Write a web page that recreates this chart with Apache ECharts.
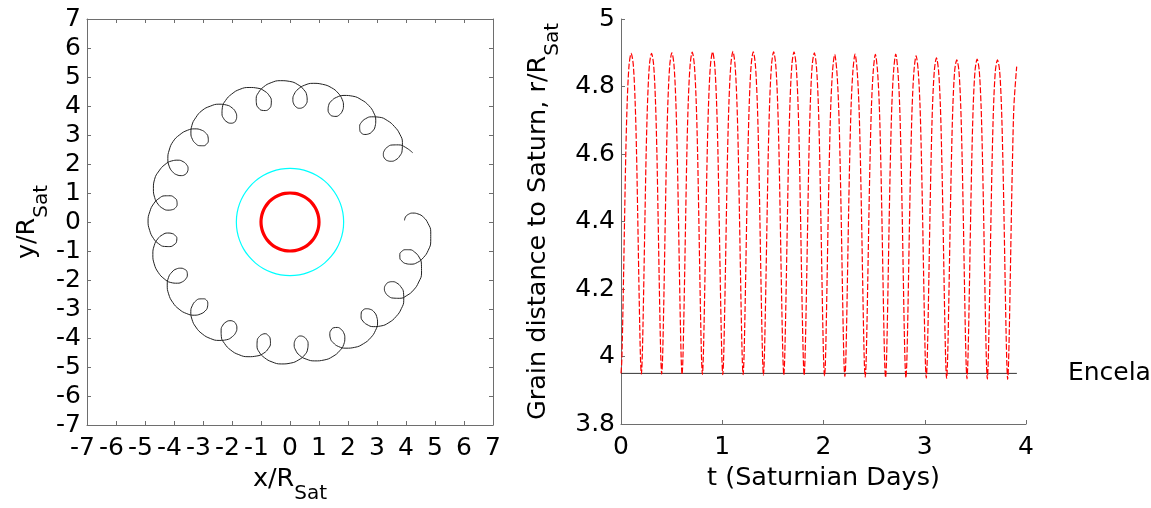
<!DOCTYPE html>
<html>
<head>
<meta charset="utf-8">
<script src="https://cdn.jsdelivr.net/npm/echarts@6/dist/echarts.min.js"></script>
<style>
  html, body { margin: 0; padding: 0; background: #ffffff; }
  #chart { width: 1151px; height: 508px; }
</style>
</head>
<body>
<div id="chart"></div>
<script>
// Grain trajectory samples: time (Saturnian days), distance to Saturn (R_Sat)
// and azimuth (degrees, measured clockwise from the +x axis).
// One row per gyration cycle, starting at the innermost point of each loop.
const timeDays = [
  0.000, 0.0075, 0.016, 0.0255, 0.036, 0.048, 0.062, 0.080, 0.1005, 0.121, 0.139, 0.153, 0.165, 0.1755, 0.185, 0.1935,
  0.201, 0.2085, 0.217, 0.2265, 0.237, 0.249, 0.263, 0.281, 0.3015, 0.322, 0.340, 0.354, 0.366, 0.3765, 0.386, 0.3945,
  0.402, 0.4095, 0.418, 0.4275, 0.438, 0.450, 0.464, 0.482, 0.5025, 0.523, 0.541, 0.555, 0.567, 0.5775, 0.587, 0.5955,
  0.603, 0.6105, 0.619, 0.6285, 0.639, 0.651, 0.665, 0.683, 0.7035, 0.724, 0.742, 0.756, 0.768, 0.7785, 0.788, 0.7965,
  0.804, 0.8115, 0.820, 0.8295, 0.840, 0.852, 0.866, 0.884, 0.9045, 0.925, 0.943, 0.957, 0.969, 0.9795, 0.989, 0.9975,
  1.005, 1.0125, 1.021, 1.0305, 1.041, 1.053, 1.067, 1.085, 1.1055, 1.126, 1.144, 1.158, 1.170, 1.1805, 1.190, 1.1985,
  1.206, 1.2135, 1.222, 1.2315, 1.242, 1.254, 1.268, 1.286, 1.3065, 1.327, 1.345, 1.359, 1.371, 1.3815, 1.391, 1.3995,
  1.407, 1.4145, 1.423, 1.4325, 1.443, 1.455, 1.469, 1.487, 1.5075, 1.528, 1.546, 1.560, 1.572, 1.5825, 1.592, 1.6005,
  1.608, 1.6155, 1.624, 1.6335, 1.644, 1.656, 1.670, 1.688, 1.7085, 1.729, 1.747, 1.761, 1.773, 1.7835, 1.793, 1.8015,
  1.809, 1.8165, 1.825, 1.8345, 1.845, 1.857, 1.871, 1.889, 1.9095, 1.930, 1.948, 1.962, 1.974, 1.9845, 1.994, 2.0025,
  2.010, 2.0175, 2.026, 2.0355, 2.046, 2.058, 2.072, 2.090, 2.1105, 2.131, 2.149, 2.163, 2.175, 2.1855, 2.195, 2.2035,
  2.211, 2.2185, 2.227, 2.2365, 2.247, 2.259, 2.273, 2.291, 2.3115, 2.332, 2.350, 2.364, 2.376, 2.3865, 2.396, 2.4045,
  2.412, 2.4195, 2.428, 2.4375, 2.448, 2.460, 2.474, 2.492, 2.5125, 2.533, 2.551, 2.565, 2.577, 2.5875, 2.597, 2.6055,
  2.613, 2.6205, 2.629, 2.6385, 2.649, 2.661, 2.675, 2.693, 2.7135, 2.734, 2.752, 2.766, 2.778, 2.7885, 2.798, 2.8065,
  2.814, 2.8215, 2.830, 2.8395, 2.850, 2.862, 2.876, 2.894, 2.9145, 2.935, 2.953, 2.967, 2.979, 2.9895, 2.999, 3.0075,
  3.015, 3.0225, 3.031, 3.0405, 3.051, 3.063, 3.077, 3.095, 3.1155, 3.136, 3.154, 3.168, 3.180, 3.1905, 3.200, 3.2085,
  3.216, 3.2235, 3.232, 3.2415, 3.252, 3.264, 3.278, 3.296, 3.3165, 3.337, 3.355, 3.369, 3.381, 3.3915, 3.401, 3.4095,
  3.417, 3.4245, 3.433, 3.4425, 3.453, 3.465, 3.479, 3.497, 3.5175, 3.538, 3.556, 3.570, 3.582, 3.5925, 3.602, 3.6105,
  3.618, 3.6255, 3.634, 3.6435, 3.654, 3.666, 3.680, 3.698, 3.7185, 3.739, 3.757, 3.771, 3.783, 3.7935, 3.803, 3.8115,
  3.819, 3.8265, 3.835, 3.8445, 3.855, 3.867, 3.881, 3.908
];

const radius = [
  3.950, 3.985, 4.09, 4.24, 4.42, 4.61, 4.76, 4.865, 4.898, 4.865, 4.76, 4.61, 4.42, 4.24, 4.09, 3.985,
  3.948, 3.985, 4.09, 4.24, 4.42, 4.61, 4.76, 4.865, 4.898, 4.865, 4.76, 4.61, 4.42, 4.24, 4.09, 3.985,
  3.948, 3.985, 4.09, 4.24, 4.42, 4.61, 4.76, 4.865, 4.900, 4.865, 4.76, 4.61, 4.42, 4.24, 4.09, 3.985,
  3.947, 3.985, 4.09, 4.24, 4.42, 4.61, 4.76, 4.865, 4.902, 4.865, 4.76, 4.61, 4.42, 4.24, 4.09, 3.985,
  3.947, 3.985, 4.09, 4.24, 4.42, 4.61, 4.76, 4.865, 4.902, 4.865, 4.76, 4.61, 4.42, 4.24, 4.09, 3.985,
  3.946, 3.985, 4.09, 4.24, 4.42, 4.61, 4.76, 4.865, 4.904, 4.865, 4.76, 4.61, 4.42, 4.24, 4.09, 3.985,
  3.946, 3.985, 4.09, 4.24, 4.42, 4.61, 4.76, 4.865, 4.903, 4.865, 4.76, 4.61, 4.42, 4.24, 4.09, 3.985,
  3.945, 3.985, 4.09, 4.24, 4.42, 4.61, 4.76, 4.865, 4.903, 4.865, 4.76, 4.61, 4.42, 4.24, 4.09, 3.985,
  3.945, 3.985, 4.09, 4.24, 4.42, 4.61, 4.76, 4.865, 4.903, 4.865, 4.76, 4.61, 4.42, 4.24, 4.09, 3.985,
  3.944, 3.985, 4.09, 4.24, 4.42, 4.61, 4.76, 4.865, 4.900, 4.860, 4.755, 4.60, 4.415, 4.235, 4.08, 3.978,
  3.942, 3.972, 4.075, 4.23, 4.41, 4.59, 4.745, 4.848, 4.895, 4.848, 4.745, 4.59, 4.41, 4.23, 4.075, 3.972,
  3.940, 3.972, 4.075, 4.23, 4.41, 4.59, 4.745, 4.848, 4.896, 4.848, 4.745, 4.59, 4.41, 4.23, 4.075, 3.972,
  3.939, 3.972, 4.075, 4.23, 4.41, 4.59, 4.745, 4.848, 4.895, 4.848, 4.745, 4.59, 4.41, 4.23, 4.075, 3.972,
  3.938, 3.972, 4.075, 4.23, 4.41, 4.59, 4.745, 4.848, 4.896, 4.848, 4.745, 4.59, 4.41, 4.23, 4.075, 3.972,
  3.937, 3.972, 4.075, 4.23, 4.41, 4.59, 4.745, 4.848, 4.891, 4.848, 4.745, 4.59, 4.41, 4.23, 4.075, 3.972,
  3.936, 3.972, 4.075, 4.23, 4.41, 4.59, 4.745, 4.848, 4.885, 4.848, 4.745, 4.59, 4.41, 4.23, 4.075, 3.972,
  3.935, 3.972, 4.075, 4.23, 4.41, 4.59, 4.745, 4.848, 4.879, 4.848, 4.745, 4.59, 4.41, 4.23, 4.075, 3.972,
  3.934, 3.972, 4.075, 4.23, 4.41, 4.59, 4.745, 4.848, 4.881, 4.848, 4.745, 4.59, 4.41, 4.23, 4.075, 3.972,
  3.933, 3.972, 4.075, 4.23, 4.41, 4.59, 4.745, 4.848, 4.879, 4.848, 4.745, 4.59, 4.41, 4.23, 4.075, 3.972,
  3.932, 3.972, 4.075, 4.23, 4.41, 4.59, 4.745, 4.859
];

const azimuthDeg = [
  -0.80, -2.45, -3.69, -4.16, -3.62, -2.01, 0.61, 4.00, 7.80, 11.59, 14.98, 17.60, 19.21, 19.75, 19.28, 18.04,
  16.40, 14.75, 13.51, 13.04, 13.58, 15.19, 17.81, 21.20, 25.00, 28.79, 32.18, 34.80, 36.41, 36.95, 36.48, 35.24,
  33.10, 31.45, 30.21, 29.74, 30.28, 31.89, 34.51, 37.90, 41.70, 45.49, 48.88, 51.50, 53.11, 53.65, 53.18, 51.94,
  50.30, 48.65, 47.41, 46.94, 47.48, 49.09, 51.71, 55.10, 58.90, 62.69, 66.08, 68.70, 70.31, 70.85, 70.38, 69.14,
  67.50, 65.85, 64.61, 64.14, 64.68, 66.29, 68.91, 72.30, 76.10, 79.89, 83.28, 85.90, 87.51, 88.05, 87.58, 86.34,
  84.90, 83.25, 82.01, 81.54, 82.08, 83.69, 86.31, 89.70, 93.50, 97.29, 100.68, 103.30, 104.91, 105.45, 104.98, 103.74,
  102.50, 100.85, 99.61, 99.14, 99.68, 101.29, 103.91, 107.30, 111.10, 114.89, 118.28, 120.90, 122.51, 123.05, 122.58, 121.34,
  119.50, 117.85, 116.61, 116.14, 116.68, 118.29, 120.91, 124.30, 128.10, 131.89, 135.28, 137.90, 139.51, 140.05, 139.58, 138.34,
  137.00, 135.35, 134.11, 133.64, 134.18, 135.79, 138.41, 141.80, 145.60, 149.39, 152.78, 155.40, 157.01, 157.55, 157.08, 155.84,
  154.30, 152.65, 151.41, 150.94, 151.48, 153.09, 155.71, 159.10, 162.90, 166.69, 170.08, 172.70, 174.31, 174.85, 174.38, 173.14,
  171.80, 170.15, 168.91, 168.44, 168.98, 170.59, 173.21, 176.60, 180.40, 184.19, 187.58, 190.20, 191.81, 192.35, 191.88, 190.64,
  188.90, 187.25, 186.01, 185.54, 186.08, 187.69, 190.31, 193.70, 197.50, 201.29, 204.68, 207.30, 208.91, 209.45, 208.98, 207.74,
  206.00, 204.35, 203.11, 202.64, 203.18, 204.79, 207.41, 210.80, 214.60, 218.39, 221.78, 224.40, 226.01, 226.55, 226.08, 224.84,
  223.10, 221.45, 220.21, 219.74, 220.28, 221.89, 224.51, 227.90, 231.70, 235.49, 238.88, 241.50, 243.11, 243.65, 243.18, 241.94,
  240.70, 239.05, 237.81, 237.34, 237.88, 239.49, 242.11, 245.50, 249.30, 253.09, 256.48, 259.10, 260.71, 261.25, 260.78, 259.54,
  257.50, 255.85, 254.61, 254.14, 254.68, 256.29, 258.91, 262.30, 266.10, 269.89, 273.28, 275.90, 277.51, 278.05, 277.58, 276.34,
  274.70, 273.05, 271.81, 271.34, 271.88, 273.49, 276.11, 279.50, 283.30, 287.09, 290.48, 293.10, 294.71, 295.25, 294.78, 293.54,
  291.70, 290.05, 288.81, 288.34, 288.88, 290.49, 293.11, 296.50, 300.30, 304.09, 307.48, 310.10, 311.71, 312.25, 311.78, 310.54,
  309.00, 307.35, 306.11, 305.64, 306.18, 307.79, 310.41, 313.80, 317.60, 321.39, 324.78, 327.40, 329.01, 329.55, 329.08, 327.84,
  325.80, 324.15, 322.91, 322.44, 322.98, 324.59, 327.21, 330.60
];

// Reference circles (R_Sat): Saturn's surface and the synchronous orbit
const saturnRadius = 1.0;
const syncOrbitRadius = 1.85;
const ringAngles = [0, 10, 20, 30, 40, 50, 60, 70, 80, 90, 100, 110, 120,
  130, 140, 150, 160, 170, 180, 190, 200, 210, 220, 230, 240, 250, 260,
  270, 280, 290, 300, 310, 320, 330, 340, 350, 360];

// Enceladus orbit, drawn over the simulated time span
const enceladusRadius = 3.95;
const enceladusSpan = [0, 3.91];
const enceladusName = 'Enceladus';

const FONT = '"DejaVu Sans", "Liberation Sans", Arial, sans-serif';
const AXIS_COLOR = '#6e6e6e';
const TICK_SIZE = 25;

const orbitXY = radius.map((r, i) => [r, azimuthDeg[i]]);
const radiusVsTime = timeDays.map((t, i) => [t, radius[i]]);
const ring = (r) => ringAngles.map(a => [r, a]);

function axisBase(extra) {
  return Object.assign({
    type: 'value',
    axisLine: { show: true, onZero: false, lineStyle: { color: AXIS_COLOR, width: 1 } },
    axisTick: { show: true, inside: true, length: 4, lineStyle: { color: AXIS_COLOR, width: 1 } },
    splitLine: { show: false },
    axisLabel: { color: '#000', fontSize: TICK_SIZE, fontFamily: FONT, margin: 11, showMinLabel: true, showMaxLabel: true, hideOverlap: false },
    nameTextStyle: { color: '#000', fontFamily: FONT }
  }, extra);
}

// Axis titles with a subscript "Sat"
const nameRich = {
  m: { fontSize: 25.5, fontFamily: FONT, color: '#000' },
  s: { fontSize: 20, fontFamily: FONT, color: '#000', padding: [30, 0, 0, 0] }
};

// Negative tick labels hang their minus sign to the left of the tick
const signedTickRich = {
  n: { fontSize: TICK_SIZE, fontFamily: FONT, color: '#000', padding: [0, 9, 0, 0] },
  p: { fontSize: TICK_SIZE, fontFamily: FONT, color: '#000' }
};

const option = {
  animation: false,
  backgroundColor: '#ffffff',
  textStyle: { fontFamily: FONT },
  grid: [
    { left: 87, top: 19, width: 406, height: 406, outerBoundsMode: 'none', containLabel: false },
    { left: 621, top: 19, width: 405, height: 405, outerBoundsMode: 'none', containLabel: false }
  ],
  xAxis: [
    axisBase({
      gridIndex: 0, min: -7, max: 7, interval: 1, position: 'bottom',
      axisLabel: {
        margin: 11, showMinLabel: true, showMaxLabel: true, hideOverlap: false,
        formatter: v => (v < 0 ? '{n|' + v + '}' : '{p|' + v + '}'),
        rich: signedTickRich
      },
      name: '{m|x/R}{s|Sat}', nameLocation: 'middle', nameGap: 26,
      nameTextStyle: { rich: nameRich }
    }),
    axisBase({
      gridIndex: 0, min: -7, max: 7, interval: 1, position: 'top',
      axisLabel: { show: false }
    }),
    axisBase({
      gridIndex: 1, min: 0, max: 4, interval: 1, position: 'bottom',
      name: 't (Saturnian Days)', nameLocation: 'middle', nameGap: 41,
      nameTextStyle: { color: '#000', fontFamily: FONT, fontSize: 25.5 }
    })
  ],
  yAxis: [
    axisBase({
      gridIndex: 0, min: -7, max: 7, interval: 1, position: 'left',
      axisLabel: { color: '#000', fontSize: TICK_SIZE, fontFamily: FONT, margin: 6, showMinLabel: true, showMaxLabel: true },
      name: '{m|y/R}{s|Sat}', nameLocation: 'middle', nameGap: 34, nameRotate: 90,
      nameTextStyle: { rich: nameRich }
    }),
    axisBase({
      gridIndex: 0, min: -7, max: 7, interval: 1, position: 'right',
      axisLabel: { show: false }
    }),
    axisBase({
      gridIndex: 1, min: 3.8, max: 5, interval: 0.2, position: 'left',
      axisLabel: { color: '#000', fontSize: TICK_SIZE, fontFamily: FONT, margin: 6, showMinLabel: true, showMaxLabel: true },
      name: '{m|Grain distance to Saturn, r/R}{s|Sat}', nameLocation: 'middle', nameGap: 58, nameRotate: 90,
      nameTextStyle: { rich: nameRich }
    })
  ],
  polar: { center: [290, 222], radius: 203 },
  angleAxis: { type: 'value', min: -20, max: 340, startAngle: 20, clockwise: true, show: false },
  radiusAxis: { type: 'value', min: 0, max: 7, show: false },
  series: [
    {
      name: 'synchronous orbit', type: 'line', coordinateSystem: 'polar',
      data: ring(syncOrbitRadius), smooth: true, showSymbol: false, silent: true,
      lineStyle: { color: '#00ffff', width: 1.2 }
    },
    {
      name: 'Saturn', type: 'line', coordinateSystem: 'polar',
      data: ring(saturnRadius), smooth: true, showSymbol: false, silent: true,
      lineStyle: { color: '#ff0000', width: 3.2 }
    },
    {
      name: 'grain path', type: 'line', coordinateSystem: 'polar',
      data: orbitXY, smooth: 0.5, showSymbol: false, silent: true,
      lineStyle: { color: '#222222', width: 1 }
    },
    {
      name: 'Enceladus orbit', type: 'line', xAxisIndex: 2, yAxisIndex: 2,
      data: [[enceladusSpan[0], enceladusRadius], [enceladusSpan[1], enceladusRadius]],
      showSymbol: false, silent: true,
      lineStyle: { color: '#333333', width: 1 },
      endLabel: { show: true, formatter: enceladusName, color: '#000', fontSize: TICK_SIZE, fontFamily: FONT, distance: 51 }
    },
    {
      name: 'grain distance', type: 'line', xAxisIndex: 2, yAxisIndex: 2,
      data: radiusVsTime, smooth: 0.3, showSymbol: false, silent: true,
      lineStyle: { color: '#ff0000', width: 1.2, type: [6, 2] }
    }
  ]
};

const chart = echarts.init(document.getElementById('chart'), null, { renderer: 'canvas' });
chart.setOption(option);
</script>
</body>
</html>
